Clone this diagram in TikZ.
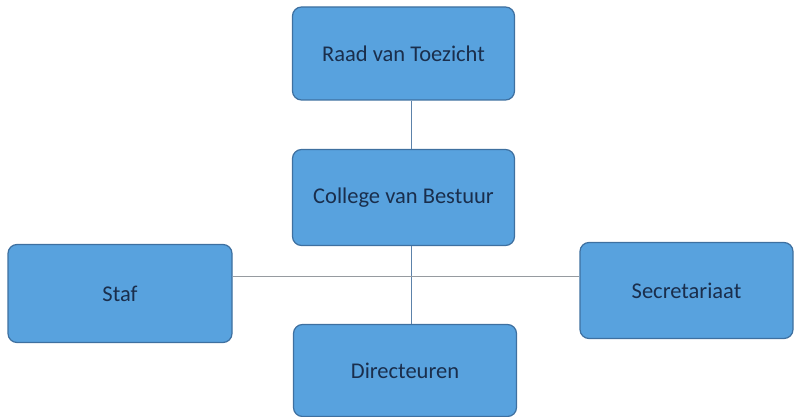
\documentclass[tikz,border=0pt]{standalone}
\usepackage{fontspec}
\setmainfont{Carlito}
\usetikzlibrary{positioning,calc}
\definecolor{boxblue}{RGB}{88,162,222}
\definecolor{boxedge}{RGB}{62,112,160}
\definecolor{boxtext}{RGB}{26,46,76}
\definecolor{linkblue}{RGB}{92,130,170}
\definecolor{linkgray}{RGB}{150,155,160}

\begin{document}
\begin{tikzpicture}[x=1pt, y=-1pt, unit/.style={rectangle, rounded corners=9pt, draw=boxedge, line width=1.2pt, fill=boxblue, text=boxtext, minimum width=222pt, minimum height=93pt, align=center, font=\fontsize{22.5}{27}\selectfont}, link/.style={draw=linkblue, line width=0.7pt}, crosslink/.style={draw=linkgray, line width=0.8pt}]

\useasboundingbox (0,0) rectangle (795,417);

% UNITS

\node [unit] (raad) at (403.5,53.5) {Raad van Toezicht};

\node [unit, minimum height=96pt] (college) at (403.5,197.5) {College van Bestuur};

\node [unit, minimum width=224pt, minimum height=98pt] (staf) at (120,293.5) {Staf};

\node [unit, minimum width=213pt, minimum height=96pt] (secretariaat) at (686.5,290.5) {Secretariaat};

\node [unit, minimum width=223pt, minimum height=92pt] (directeuren) at (405,370.5) {Directeuren};

% LINKS

\draw [link] ([xshift=7.5pt]raad.south) -- ([xshift=7.5pt]college.north);

\draw [link] ([xshift=7.5pt]college.south) -- ([xshift=7.5pt]college.south |- directeuren.north);

\draw [crosslink] ([yshift=17.5pt]staf.east) -- ([yshift=17.5pt]staf.east -| secretariaat.west);

\end{tikzpicture}
\end{document}
